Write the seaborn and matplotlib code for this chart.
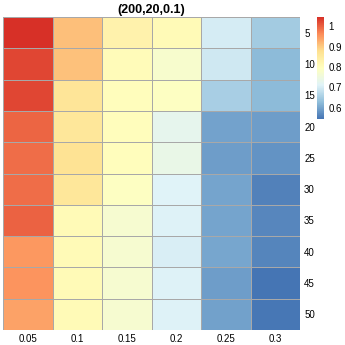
import matplotlib
matplotlib.use("Agg")
import matplotlib.pyplot as plt
import seaborn as sns
import numpy as np
import pandas as pd
from matplotlib.colors import LinearSegmentedColormap

title = "(200,20,0.1)"
col_labels = ["0.05", "0.1", "0.15", "0.2", "0.25", "0.3"]
row_labels = ["5", "10", "15", "20", "25", "30", "35", "40", "45", "50"]
values = [
    [1.045, 0.912, 0.830, 0.810, 0.700, 0.647],
    [1.025, 0.910, 0.805, 0.775, 0.695, 0.625],
    [1.025, 0.865, 0.800, 0.790, 0.653, 0.625],
    [0.998, 0.860, 0.800, 0.728, 0.597, 0.590],
    [0.990, 0.870, 0.800, 0.737, 0.590, 0.580],
    [0.990, 0.860, 0.790, 0.712, 0.598, 0.560],
    [1.000, 0.810, 0.770, 0.710, 0.598, 0.565],
    [0.950, 0.810, 0.770, 0.705, 0.600, 0.563],
    [0.955, 0.810, 0.770, 0.710, 0.590, 0.545],
    [0.940, 0.810, 0.770, 0.710, 0.595, 0.547],
]
cbar_ticks = [0.6, 0.7, 0.8, 0.9, 1.0]
cbar_ticklabels = ["0.6", "0.7", "0.8", "0.9", "1"]

palette = ["#4575B4", "#91BFDB", "#E0F3F8", "#FFFFBF", "#FEE090", "#FC8D59", "#D73027"]
cmap = LinearSegmentedColormap.from_list("ph", palette, N=256)

df = pd.DataFrame(values, index=row_labels, columns=col_labels)

plt.rcParams['font.family'] = ['Liberation Sans', 'DejaVu Sans']
W = H = 345
fig = plt.figure(figsize=(3.45, 3.45), dpi=100)
ax = fig.add_axes([3 / W, 1 - 330 / H, 297 / W, 313 / H])
cax = fig.add_axes([317 / W, 1 - 119 / H, 7 / W, 102 / H])

sns.heatmap(df, ax=ax, cmap=cmap, vmin=0.545, vmax=1.045, linewidths=0.6,
            linecolor="#a8a8a8", cbar_ax=cax, cbar_kws={"ticks": cbar_ticks})

ax.yaxis.tick_right()
ax.tick_params(axis="both", length=0, labelsize=7, pad=3)
ax.set_yticklabels(row_labels, rotation=0)
ax.set_xticklabels(col_labels, rotation=0)
ax.set_xlabel("")
ax.set_ylabel("")
ax.set_title(title, fontsize=9, fontweight="bold", pad=3)

cb = ax.collections[0].colorbar
cb.outline.set_visible(False)
cb.set_ticks(cbar_ticks)
cb.set_ticklabels(cbar_ticklabels)
cax.tick_params(length=0, labelsize=7, pad=3)

fig.savefig("out.png", dpi=100)
